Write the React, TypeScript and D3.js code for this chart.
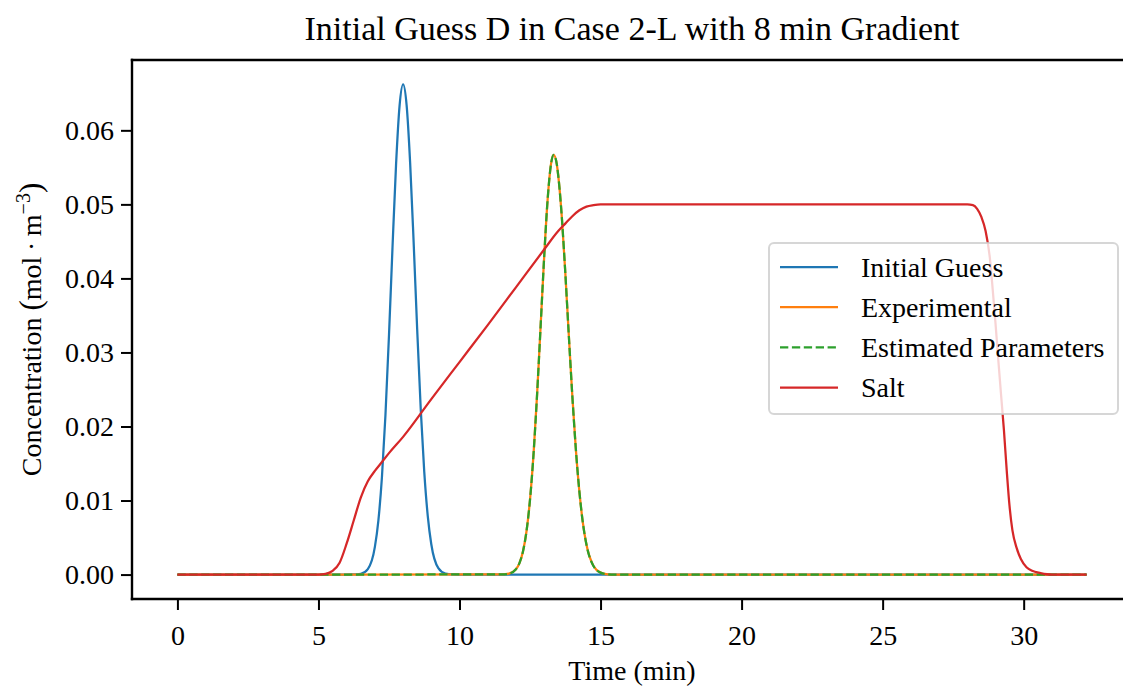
import React, { useRef, useEffect } from "react";
import * as d3 from "d3";

// time axis (min) and concentrations (mol/m^3)
const guessTime = [0, 6.0, 6.25, 6.5, 6.75, 7.0, 7.125, 7.25, 7.375, 7.5, 7.625, 7.75, 7.875, 8.0,
  8.125, 8.25, 8.375, 8.5, 8.625, 8.75, 8.875, 9.0, 9.25, 9.5, 9.75, 10.0, 32.23];
const guessConc = [0, 0, 0.00001, 0.0001, 0.00074, 0.00374, 0.00733, 0.01315, 0.02155, 0.0323, 0.0442, 0.0553, 0.0633, 0.0662,
  0.0634, 0.0556, 0.0448, 0.0331, 0.0224, 0.0139, 0.0079, 0.0041, 0.00086, 0.00013, 0.00001, 0, 0];

const peakTime = [0, 11.5, 11.75, 12.0, 12.125, 12.25, 12.375, 12.5, 12.625, 12.75, 12.875, 13.0, 13.125, 13.25, 13.34,
  13.45, 13.5, 13.625, 13.75, 13.875, 14.0, 14.125, 14.25, 14.375, 14.5, 14.75, 15.0, 15.25, 15.5, 32.23];
const experimentalConc = [0, 0.000015, 0.00012, 0.00071, 0.00155, 0.00312, 0.00585, 0.01014, 0.0163, 0.0243, 0.0335, 0.0428, 0.0507, 0.0556, 0.0567,
  0.0554, 0.0539, 0.0484, 0.0408, 0.0323, 0.0241, 0.0169, 0.0112, 0.00694, 0.00405, 0.00115, 0.00026, 0.00004, 0, 0];
const estimatedConc = [0, 0.000015, 0.00012, 0.00071, 0.00155, 0.00312, 0.00585, 0.01014, 0.0163, 0.0243, 0.0335, 0.0428, 0.0507, 0.0556, 0.0567,
  0.0554, 0.0539, 0.0484, 0.0408, 0.0323, 0.0241, 0.0169, 0.0112, 0.00694, 0.00405, 0.00115, 0.00026, 0.00004, 0, 0];

const saltTime = [0, 5.0, 5.25, 5.5, 5.75, 6.0, 6.25, 6.5, 6.75, 7.0, 7.25, 7.5, 8.0, 9.0, 10.0, 11.0, 12.0, 13.0,
  13.5, 13.75, 14.0, 14.25, 14.5, 14.75, 15.0, 20.0, 25.0, 28.0, 28.2, 28.35, 28.5, 28.65, 28.8, 28.9, 29.0,
  29.1, 29.2, 29.3, 29.4, 29.5, 29.6, 29.75, 29.9, 30.1, 30.3, 30.6, 31.0, 32.23];
const saltConc = [0, 0, 0.0001, 0.0005, 0.0016, 0.0042, 0.0073, 0.0104, 0.0126, 0.014, 0.0152, 0.0164, 0.0186, 0.0237, 0.0287, 0.0337, 0.0388, 0.0439,
  0.0464, 0.0474, 0.0484, 0.0492, 0.0497, 0.0499, 0.05, 0.05, 0.05, 0.05, 0.0499, 0.0494, 0.0483, 0.0464, 0.0428, 0.0386, 0.034,
  0.029, 0.0242, 0.0195, 0.014, 0.0092, 0.006, 0.0036, 0.0021, 0.001, 0.0005, 0.0002, 0, 0];

const xTicks = [0, 5, 10, 15, 20, 25, 30];
const yTicks = [0, 0.01, 0.02, 0.03, 0.04, 0.05, 0.06];

const seriesNames = ["Initial Guess", "Experimental", "Estimated Parameters", "Salt"];
const seriesColors = ["#1f77b4", "#ff7f0e", "#2ca02c", "#d62728"];

const FONT = "'Liberation Serif', 'Times New Roman', serif";

const Chart = () => {
  const svgRef = useRef(null);

  useEffect(() => {
    const svg = d3.select(svgRef.current);
    svg.selectAll("*").remove();

    const left = 132, right = 1132, top = 60, bottom = 599;

    const x = d3.scaleLinear().domain([-1.61, 33.84]).range([left, right]);
    const y = d3.scaleLinear().domain([-0.0033, 0.0695]).range([bottom, top]);

    const series = [
      { time: guessTime, conc: guessConc, dash: null },
      { time: peakTime, conc: experimentalConc, dash: null },
      { time: peakTime, conc: estimatedConc, dash: "8.3 3.6" },
      { time: saltTime, conc: saltConc, dash: null },
    ];

    const line = d3.line()
      .x(d => x(d[0]))
      .y(d => y(d[1]))
      .curve(d3.curveMonotoneX);

    series.forEach((s, i) => {
      svg.append("path")
        .datum(s.time.map((t, j) => [t, s.conc[j]]))
        .attr("d", line)
        .attr("fill", "none")
        .attr("stroke", seriesColors[i])
        .attr("stroke-width", 2.25)
        .attr("stroke-dasharray", s.dash);
    });

    // x axis
    const xAxis = svg.append("g")
      .attr("transform", `translate(0, ${bottom})`)
      .call(d3.axisBottom(x).tickValues(xTicks).tickSize(11).tickPadding(15).tickFormat(d3.format("d")));
    xAxis.select(".domain").remove();
    xAxis.selectAll("line").attr("stroke", "black").attr("stroke-width", 2);
    xAxis.selectAll("text").attr("font-family", FONT).attr("font-size", 28).attr("fill", "black");

    // y axis
    const yAxis = svg.append("g")
      .attr("transform", `translate(${left}, 0)`)
      .call(d3.axisLeft(y).tickValues(yTicks).tickSize(11).tickPadding(7).tickFormat(d3.format(".2f")));
    yAxis.select(".domain").remove();
    yAxis.selectAll("line").attr("stroke", "black").attr("stroke-width", 2);
    yAxis.selectAll("text").attr("font-family", FONT).attr("font-size", 28).attr("fill", "black");

    // spines
    const spine = svg.append("g").attr("stroke", "black").attr("stroke-width", 2.4).attr("stroke-linecap", "square");
    spine.append("line").attr("x1", left).attr("x2", left).attr("y1", top).attr("y2", bottom);
    spine.append("line").attr("x1", left).attr("x2", right).attr("y1", top).attr("y2", top);
    spine.append("line").attr("x1", left).attr("x2", right).attr("y1", bottom).attr("y2", bottom);
    spine.append("line").attr("x1", right).attr("x2", right).attr("y1", top).attr("y2", bottom);

    // title and labels
    svg.append("text")
      .attr("x", (left + right) / 2).attr("y", 40)
      .attr("text-anchor", "middle")
      .attr("font-family", FONT).attr("font-size", 34)
      .text("Initial Guess D in Case 2-L with 8 min Gradient");

    svg.append("text")
      .attr("x", (left + right) / 2).attr("y", 680)
      .attr("text-anchor", "middle")
      .attr("font-family", FONT).attr("font-size", 28)
      .text("Time (min)");

    const yl = svg.append("text")
      .attr("transform", `translate(41, ${(top + bottom) / 2}) rotate(-90)`)
      .attr("text-anchor", "middle")
      .attr("font-family", FONT).attr("font-size", 28);
    yl.append("tspan").text("Concentration ");
    yl.append("tspan").attr("font-size", 31).text("(");
    yl.append("tspan").text("mol\u2009\u00b7\u2009m");
    yl.append("tspan").attr("font-size", 20).attr("dy", -11).text("\u22123");
    yl.append("tspan").attr("font-size", 31).attr("dy", 11).text(")");

    // legend
    const lg = svg.append("g");
    lg.append("rect")
      .attr("x", 769).attr("y", 243).attr("width", 349).attr("height", 171).attr("rx", 5)
      .attr("fill", "white").attr("fill-opacity", 0.8)
      .attr("stroke", "#cccccc").attr("stroke-opacity", 0.8).attr("stroke-width", 2);
    seriesNames.forEach((name, i) => {
      const cy = 267 + i * 40.2;
      lg.append("line")
        .attr("x1", 780).attr("x2", 838).attr("y1", cy).attr("y2", cy)
        .attr("stroke", seriesColors[i]).attr("stroke-width", 2.25)
        .attr("stroke-dasharray", i === 2 ? "8.3 3.6" : null);
      lg.append("text")
        .attr("x", 861).attr("y", cy).attr("dy", "0.34em")
        .attr("font-family", FONT).attr("font-size", 28)
        .text(name);
    });
  }, []);

  return (
    <svg ref={svgRef} width={1123} height={687}
      style={{ position: "absolute", left: 0, top: 0, background: "white" }} />
  );
};

export default function App() {
  return <Chart />;
}
